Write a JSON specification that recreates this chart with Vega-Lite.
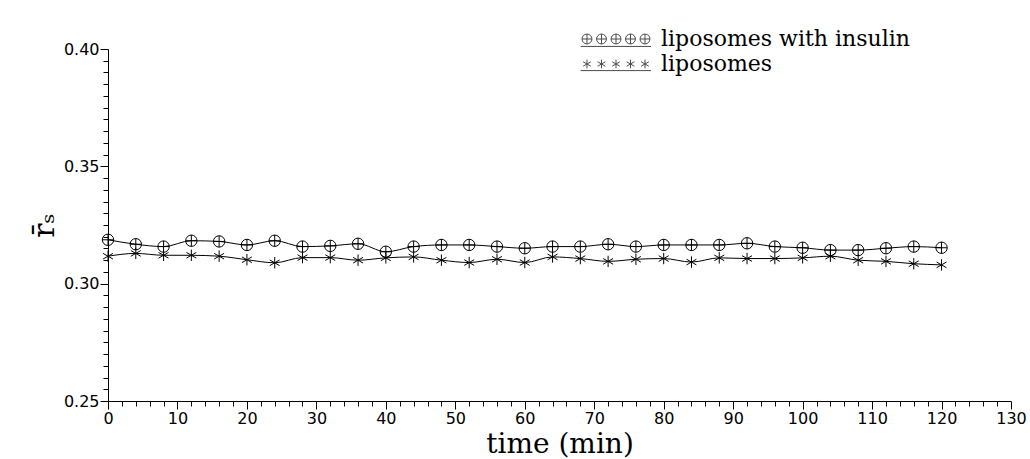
{
  "$schema": "https://vega.github.io/schema/vega-lite/v6.json",
  "width": 903,
  "height": 352,
  "autosize": "none",
  "padding": {"left": 108, "top": 49, "right": 19, "bottom": 58},
  "background": "white",
  "config": {
    "view": {"stroke": null},
    "axis": {
      "grid": false,
      "domainColor": "black",
      "domainWidth": 1,
      "tickColor": "black",
      "tickWidth": 1,
      "labelColor": "black",
      "labelFont": "DejaVu Sans",
      "labelFontSize": 16,
      "titleColor": "black",
      "titleFont": "DejaVu Serif",
      "titleFontWeight": "normal"
    }
  },
  "data": {
    "values": [
      {"t": 0, "v": 0.3187, "series": "liposomes with insulin"},
      {"t": 4, "v": 0.3168, "series": "liposomes with insulin"},
      {"t": 8, "v": 0.3158, "series": "liposomes with insulin"},
      {"t": 12, "v": 0.3183, "series": "liposomes with insulin"},
      {"t": 16, "v": 0.318, "series": "liposomes with insulin"},
      {"t": 20, "v": 0.3165, "series": "liposomes with insulin"},
      {"t": 24, "v": 0.3183, "series": "liposomes with insulin"},
      {"t": 28, "v": 0.3158, "series": "liposomes with insulin"},
      {"t": 32, "v": 0.3161, "series": "liposomes with insulin"},
      {"t": 36, "v": 0.317, "series": "liposomes with insulin"},
      {"t": 40, "v": 0.3136, "series": "liposomes with insulin"},
      {"t": 44, "v": 0.3158, "series": "liposomes with insulin"},
      {"t": 48, "v": 0.3165, "series": "liposomes with insulin"},
      {"t": 52, "v": 0.3165, "series": "liposomes with insulin"},
      {"t": 56, "v": 0.3158, "series": "liposomes with insulin"},
      {"t": 60, "v": 0.3151, "series": "liposomes with insulin"},
      {"t": 64, "v": 0.3158, "series": "liposomes with insulin"},
      {"t": 68, "v": 0.3158, "series": "liposomes with insulin"},
      {"t": 72, "v": 0.3168, "series": "liposomes with insulin"},
      {"t": 76, "v": 0.3158, "series": "liposomes with insulin"},
      {"t": 80, "v": 0.3165, "series": "liposomes with insulin"},
      {"t": 84, "v": 0.3165, "series": "liposomes with insulin"},
      {"t": 88, "v": 0.3165, "series": "liposomes with insulin"},
      {"t": 92, "v": 0.3172, "series": "liposomes with insulin"},
      {"t": 96, "v": 0.3158, "series": "liposomes with insulin"},
      {"t": 100, "v": 0.3153, "series": "liposomes with insulin"},
      {"t": 104, "v": 0.3143, "series": "liposomes with insulin"},
      {"t": 108, "v": 0.3143, "series": "liposomes with insulin"},
      {"t": 112, "v": 0.3151, "series": "liposomes with insulin"},
      {"t": 116, "v": 0.3158, "series": "liposomes with insulin"},
      {"t": 120, "v": 0.3153, "series": "liposomes with insulin"},
      {"t": 0, "v": 0.3117, "series": "liposomes"},
      {"t": 4, "v": 0.3129, "series": "liposomes"},
      {"t": 8, "v": 0.3121, "series": "liposomes"},
      {"t": 12, "v": 0.3121, "series": "liposomes"},
      {"t": 16, "v": 0.3117, "series": "liposomes"},
      {"t": 20, "v": 0.3102, "series": "liposomes"},
      {"t": 24, "v": 0.3089, "series": "liposomes"},
      {"t": 28, "v": 0.3111, "series": "liposomes"},
      {"t": 32, "v": 0.3111, "series": "liposomes"},
      {"t": 36, "v": 0.31, "series": "liposomes"},
      {"t": 40, "v": 0.311, "series": "liposomes"},
      {"t": 44, "v": 0.3114, "series": "liposomes"},
      {"t": 48, "v": 0.31, "series": "liposomes"},
      {"t": 52, "v": 0.309, "series": "liposomes"},
      {"t": 56, "v": 0.3104, "series": "liposomes"},
      {"t": 60, "v": 0.309, "series": "liposomes"},
      {"t": 64, "v": 0.3114, "series": "liposomes"},
      {"t": 68, "v": 0.3107, "series": "liposomes"},
      {"t": 72, "v": 0.3095, "series": "liposomes"},
      {"t": 76, "v": 0.3104, "series": "liposomes"},
      {"t": 80, "v": 0.3107, "series": "liposomes"},
      {"t": 84, "v": 0.3092, "series": "liposomes"},
      {"t": 88, "v": 0.311, "series": "liposomes"},
      {"t": 92, "v": 0.3107, "series": "liposomes"},
      {"t": 96, "v": 0.3107, "series": "liposomes"},
      {"t": 100, "v": 0.311, "series": "liposomes"},
      {"t": 104, "v": 0.3117, "series": "liposomes"},
      {"t": 108, "v": 0.31, "series": "liposomes"},
      {"t": 112, "v": 0.3095, "series": "liposomes"},
      {"t": 116, "v": 0.3085, "series": "liposomes"},
      {"t": 120, "v": 0.308, "series": "liposomes"}
    ]
  },
  "layer": [
    {
      "mark": {"type": "line", "interpolate": "monotone", "color": "black", "strokeWidth": 1},
      "encoding": {
        "x": {
          "field": "t", "type": "quantitative",
          "scale": {"domain": [0, 130], "nice": false, "zero": false},
          "axis": {
            "orient": "bottom",
            "values": [0, 10, 20, 30, 40, 50, 60, 70, 80, 90, 100, 110, 120, 130],
            "format": "d", "tickSize": 8, "labelPadding": 1, "labelFlush": false, "labelOverlap": false,
            "title": "time (min)", "titleFontSize": 28, "titlePadding": 4
          }
        },
        "y": {
          "field": "v", "type": "quantitative",
          "scale": {"domain": [0.25, 0.4], "nice": false, "zero": false},
          "axis": {
            "orient": "left",
            "values": [0.25, 0.3, 0.35, 0.4],
            "format": ".2f", "tickSize": 8, "labelPadding": 1, "labelFlush": false, "labelOverlap": false,
            "title": "r̄ₛ", "titleFontSize": 30, "titlePadding": 4
          }
        },
        "detail": {"field": "series"}
      }
    },
    {
      "mark": {"type": "point", "filled": false, "color": "black", "strokeWidth": 1, "size": 130, "opacity": 1},
      "encoding": {
        "x": {
          "field": "t", "type": "quantitative",
          "axis": {
            "orient": "bottom",
            "values": [2,4,6,8,12,14,16,18,22,24,26,28,32,34,36,38,42,44,46,48,52,54,56,58,62,64,66,68,72,74,76,78,82,84,86,88,92,94,96,98,102,104,106,108,112,114,116,118,122,124,126,128],
            "tickSize": 5, "labels": false, "domain": false, "title": null
          }
        },
        "y": {
          "field": "v", "type": "quantitative",
          "axis": {
            "orient": "left",
            "values": [0.255,0.26,0.265,0.27,0.275,0.28,0.285,0.29,0.295,0.305,0.31,0.315,0.32,0.325,0.33,0.335,0.34,0.345,0.355,0.36,0.365,0.37,0.375,0.38,0.385,0.39,0.395],
            "tickSize": 5, "labels": false, "domain": false, "title": null
          }
        },
        "shape": {
          "field": "series", "type": "nominal",
          "scale": {
            "domain": ["liposomes with insulin", "liposomes"],
            "range": ["M-1,0A1,1 0 1,0 1,0A1,1 0 1,0 -1,0ZM-1,0L1,0M0,-1L0,1", "M0,-1L0,1M-0.87,-0.5L0.87,0.5M-0.87,0.5L0.87,-0.5"]
          },
          "legend": null
        }
      }
    },
    {
      "transform": [{"filter": "false"}],
      "mark": {"type": "point", "filled": false, "color": "black", "strokeWidth": 1},
      "encoding": {
        "x": {"field": "t", "type": "quantitative", "axis": null},
        "y": {"field": "v", "type": "quantitative", "axis": null},
        "shape": {
          "field": "series", "type": "nominal",
          "scale": {
            "domain": ["liposomes with insulin", "liposomes"],
            "range": [
              "M-0.9,0A0.9,0.9 0 1,0 0.9,0A0.9,0.9 0 1,0 -0.9,0M-0.9,0L0.9,0M0,-0.9L0,0.9M-3.54,0A0.9,0.9 0 1,0 -1.74,0A0.9,0.9 0 1,0 -3.54,0M-3.54,0L-1.74,0M-2.64,-0.9L-2.64,0.9M-6.17,0A0.9,0.9 0 1,0 -4.37,0A0.9,0.9 0 1,0 -6.17,0M-6.17,0L-4.37,0M-5.27,-0.9L-5.27,0.9M-8.81,0A0.9,0.9 0 1,0 -7.01,0A0.9,0.9 0 1,0 -8.81,0M-8.81,0L-7.01,0M-7.91,-0.9L-7.91,0.9M-11.45,0A0.9,0.9 0 1,0 -9.65,0A0.9,0.9 0 1,0 -11.45,0M-11.45,0L-9.65,0M-10.55,-0.9L-10.55,0.9M-11.7,1.35L1.1,1.35",
              "M0,-0.8L0,0.8M-0.7,-0.4L0.7,0.4M-0.7,0.4L0.7,-0.4M-2.64,-0.8L-2.64,0.8M-3.34,-0.4L-1.94,0.4M-3.34,0.4L-1.94,-0.4M-5.27,-0.8L-5.27,0.8M-5.97,-0.4L-4.57,0.4M-5.97,0.4L-4.57,-0.4M-7.91,-0.8L-7.91,0.8M-8.61,-0.4L-7.21,0.4M-8.61,0.4L-7.21,-0.4M-10.55,-0.8L-10.55,0.8M-11.25,-0.4L-9.85,0.4M-11.25,0.4L-9.85,-0.4M-11.7,1.2L1.1,1.2"
            ]
          },
          "legend": {
            "orient": "none",
            "legendX": 526,
            "legendY": -21,
            "title": null,
            "padding": 0,
            "symbolSize": 121,
            "symbolStrokeColor": "black",
            "symbolStrokeWidth": 1,
            "symbolFillColor": "transparent",
            "labelFont": "DejaVu Serif",
            "labelFontSize": 22,
            "labelColor": "black",
            "labelOffset": 5,
            "labelLimit": 0,
            "rowPadding": 3
          }
        }
      }
    }
  ],
  "resolve": {
    "scale": {"shape": "independent"},
    "axis": {"x": "independent", "y": "independent"}
  }
}
